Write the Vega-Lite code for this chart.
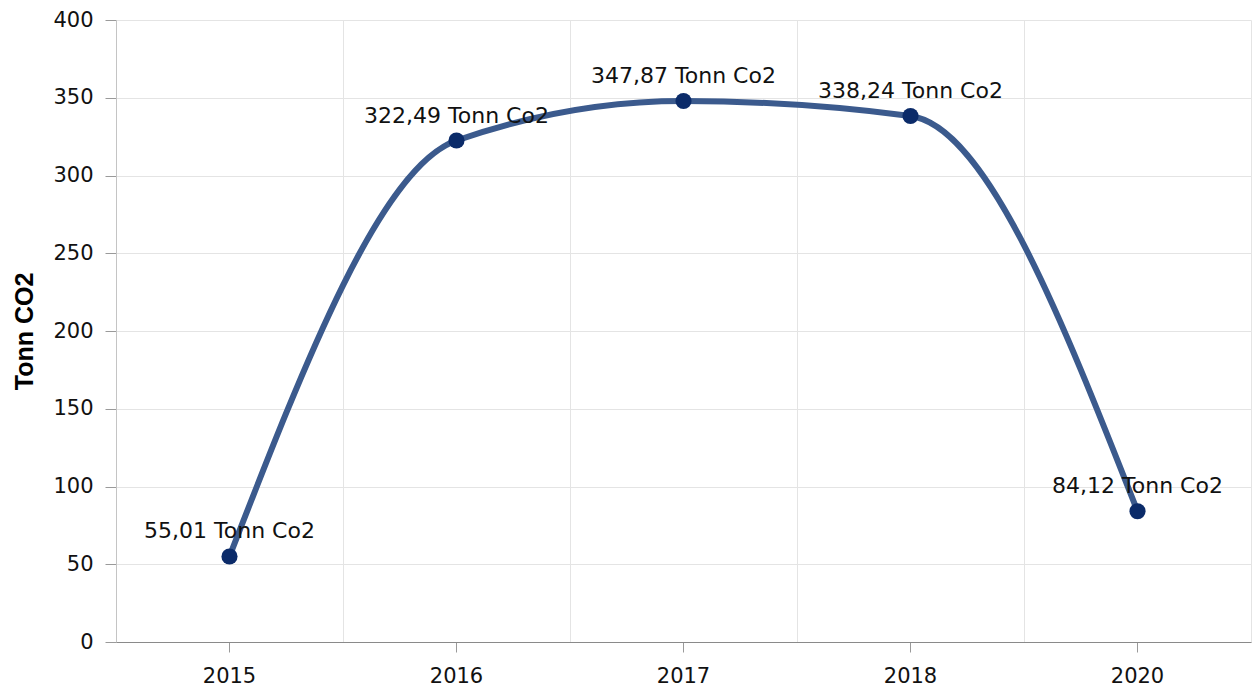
{
  "$schema": "https://vega.github.io/schema/vega-lite/v6.json",
  "autosize": "none",
  "width": 1135,
  "height": 622,
  "padding": {"left": 116, "top": 20, "right": 4, "bottom": 49},
  "background": "white",
  "config": {
    "font": "DejaVu Sans",
    "view": {"stroke": null},
    "axis": {
      "labelFont": "DejaVu Sans",
      "titleFont": "DejaVu Sans",
      "labelFontSize": 21,
      "labelColor": "#111111",
      "gridColor": "#e4e4e4",
      "gridWidth": 1,
      "domainColor": "#9a9a9a",
      "tickColor": "#9a9a9a"
    }
  },
  "data": {
    "values": [
      {"year": "2015", "value": 55.01, "label": "55,01 Tonn Co2"},
      {"year": "2016", "value": 322.49, "label": "322,49 Tonn Co2"},
      {"year": "2017", "value": 347.87, "label": "347,87 Tonn Co2"},
      {"year": "2018", "value": 338.24, "label": "338,24 Tonn Co2"},
      {"year": "2020", "value": 84.12, "label": "84,12 Tonn Co2"}
    ]
  },
  "resolve": {"axis": {"x": "independent", "y": "independent"}},
  "layer": [
    {
      "mark": {"type": "line", "interpolate": "monotone", "color": "#3b5a8d", "strokeWidth": 6},
      "encoding": {
        "x": {
          "field": "year", "type": "ordinal", "bandPosition": 0.5,
          "scale": {"type": "band", "paddingInner": 0, "paddingOuter": 0},
          "axis": {"orient": "bottom", "grid": true, "tickBand": "extent", "labels": false, "ticks": false, "domain": false, "title": null, "zindex": 0}
        },
        "y": {
          "field": "value", "type": "quantitative",
          "scale": {"domain": [0, 400], "nice": false},
          "axis": {"orient": "left", "grid": true, "values": [0, 50, 100, 150, 200, 250, 300, 350, 400], "tickSize": 11, "labelPadding": 12, "title": "Tonn CO2", "titleFont": "Liberation Sans", "titleFontSize": 25, "titleFontWeight": "bold", "titleColor": "#000000", "titlePadding": 15, "domainColor": "#c4c4c4", "zindex": 0}
        }
      }
    },
    {
      "mark": {"type": "point", "filled": true, "size": 260, "color": "#0b2b69", "opacity": 1},
      "encoding": {
        "x": {
          "field": "year", "type": "ordinal", "bandPosition": 0.5,
          "axis": {"orient": "bottom", "grid": false, "ticks": true, "tickSize": 10, "labelPadding": 13, "labelAngle": 0, "title": null, "domainColor": "#8a8a8a", "zindex": 1}
        },
        "y": {"field": "value", "type": "quantitative", "axis": null}
      }
    },
    {
      "mark": {"type": "text", "dy": -25, "fontSize": 22, "color": "#111111", "font": "DejaVu Sans"},
      "encoding": {
        "x": {"field": "year", "type": "ordinal", "bandPosition": 0.5, "axis": null},
        "y": {"field": "value", "type": "quantitative", "axis": null},
        "text": {"field": "label"}
      }
    }
  ]
}
